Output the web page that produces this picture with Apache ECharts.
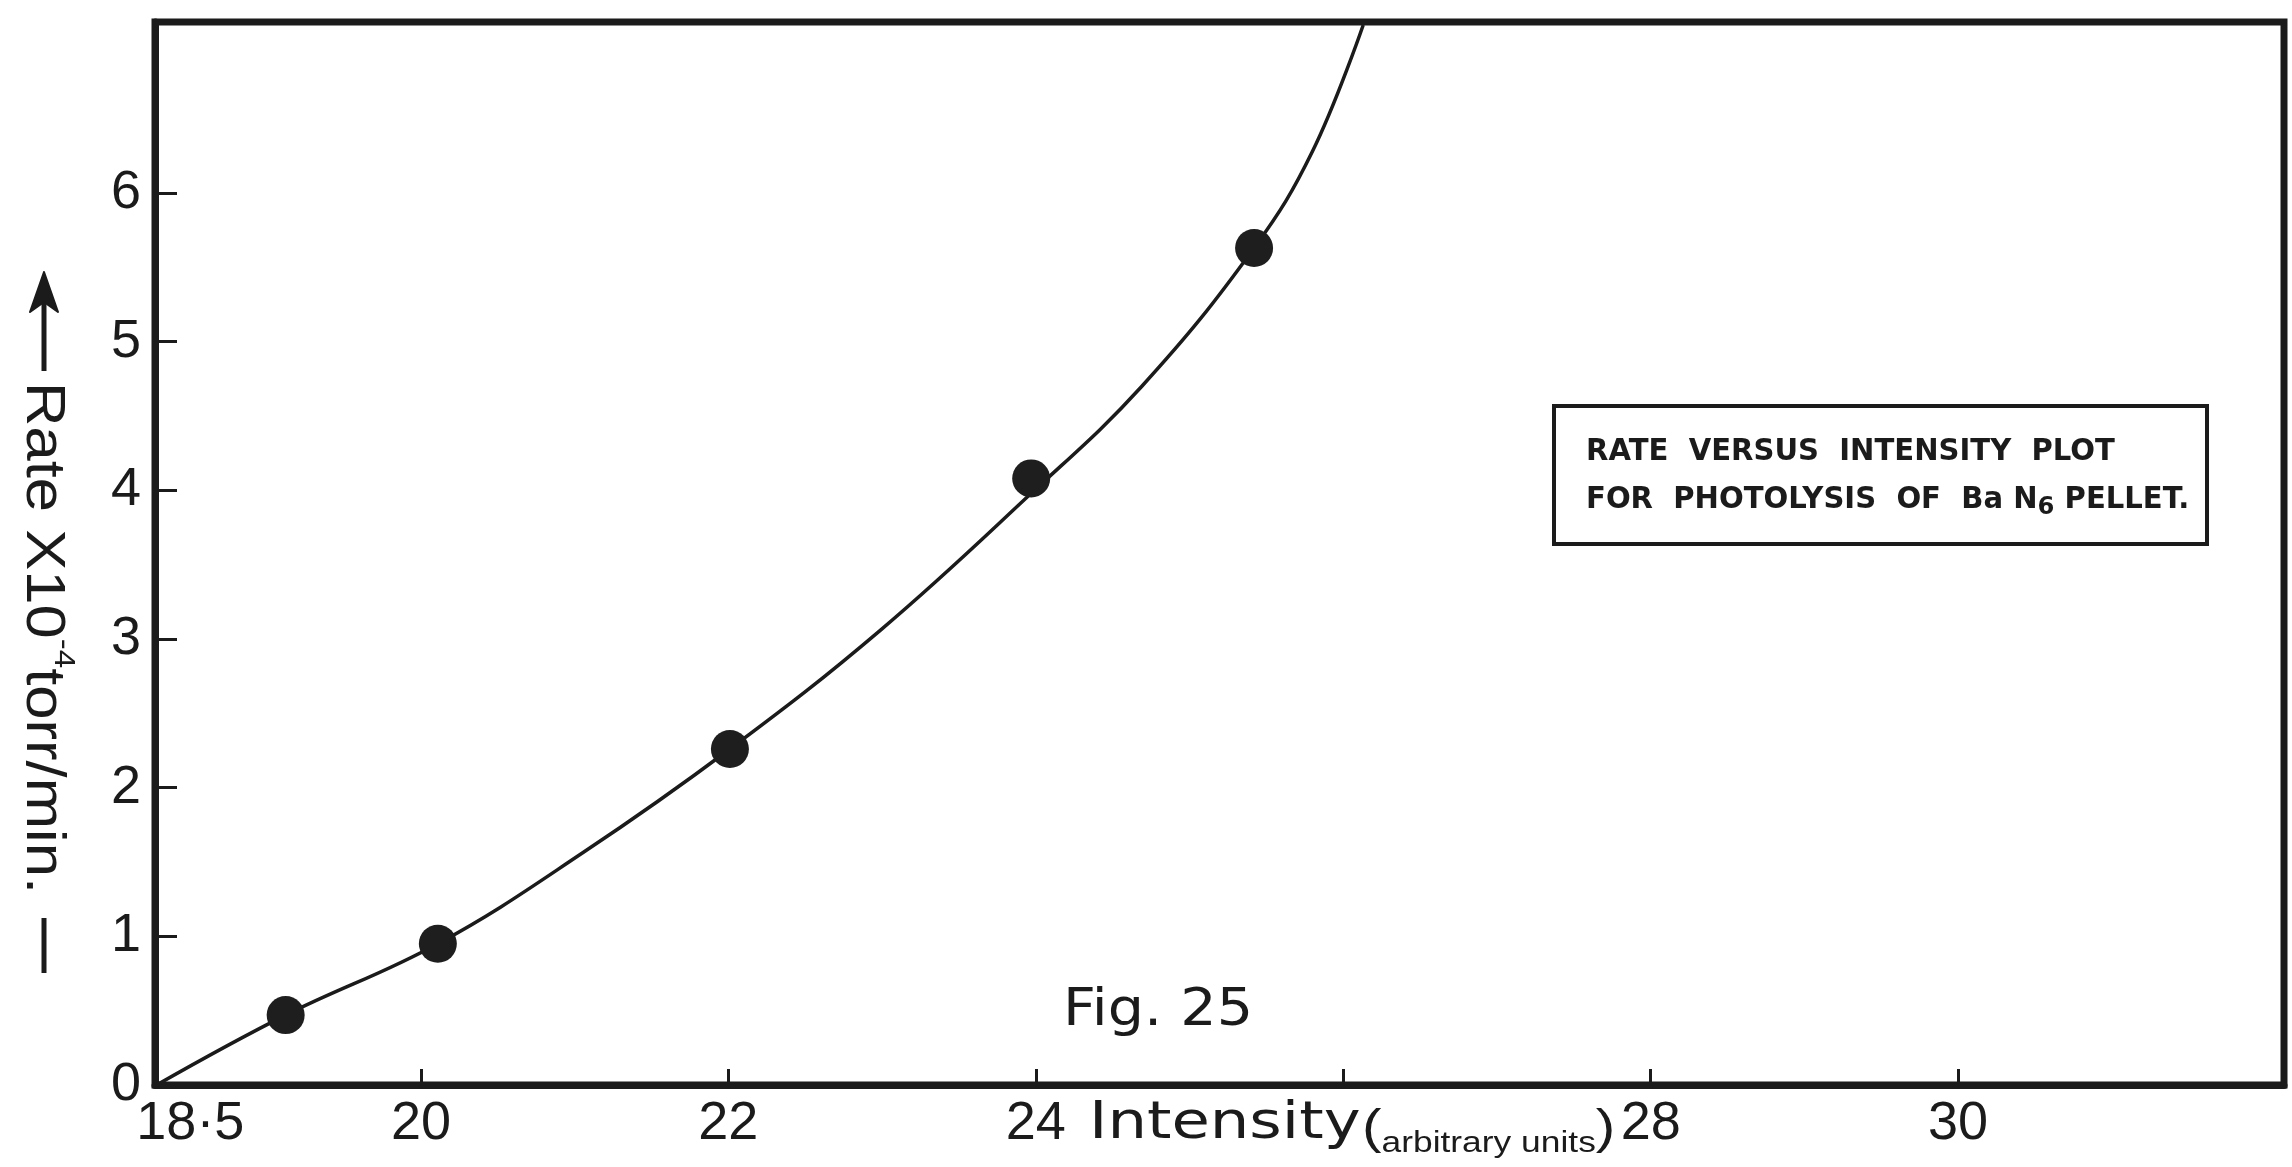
<!DOCTYPE html>
<html>
<head>
<meta charset="utf-8">
<script src="https://cdn.jsdelivr.net/npm/echarts@6/dist/echarts.min.js"></script>
<style>
  html, body { margin: 0; padding: 0; background: #ffffff; }
  #chart { width: 2292px; height: 1167px; }
</style>
</head>
<body>
<div id="chart"></div>
<script>
// Measured points: light intensity (arbitrary units) against rate (x10^-4 torr/min)
const intensity = [19.12, 20.11, 22.01, 23.97, 25.42];
const rate = [0.47, 0.95, 2.26, 4.08, 5.63];

// Hand-drawn smooth curve through the measurements, running off the top of the frame
const curveIntensity = [18.28, 19.12, 20.11, 21.05, 22.01, 22.99, 23.96, 24.69, 25.42, 25.80, 26.13];
const curveRate = [0.00, 0.47, 0.95, 1.56, 2.26, 3.06, 3.97, 4.70, 5.63, 6.28, 7.13];

// Axis ticks and labels
const xTicks = [20, 22, 24, 26, 28, 30];
const xTickLabels = [18.5, 20, 22, 24, 28, 30];
const yTicks = [1, 2, 3, 4, 5, 6];
const yTickLabels = [0, 1, 2, 3, 4, 5, 6];

const ink = '#1b1b1b';
const chart = echarts.init(document.getElementById('chart'), null, { renderer: 'canvas' });

const option = {
  backgroundColor: '#ffffff',
  animation: false,
  grid: {
    left: 155, top: 22, right: 8, bottom: 82,
    show: true, borderColor: ink, borderWidth: 7, backgroundColor: 'transparent'
  },
  xAxis: {
    type: 'value',
    min: 18.27,
    max: 32.12,
    axisLine: { show: true, onZero: false, lineStyle: { color: ink, width: 7 } },
    axisTick: { show: true, inside: true, length: 16, customValues: xTicks, lineStyle: { color: ink, width: 3 } },
    axisLabel: {
      customValues: xTickLabels,
      margin: 12,
      color: ink,
      fontFamily: 'Liberation Sans',
      fontSize: 54,
      formatter: v => (v === 18.5 ? '18·5' : String(v))
    },
    splitLine: { show: false }
  },
  yAxis: {
    type: 'value',
    min: 0,
    max: 7.15,
    axisLine: { show: true, onZero: false, lineStyle: { color: ink, width: 7 } },
    axisTick: { show: true, inside: true, length: 22, customValues: yTicks, lineStyle: { color: ink, width: 3 } },
    axisLabel: {
      customValues: yTickLabels,
      margin: 14,
      color: ink,
      fontFamily: 'Liberation Sans',
      fontSize: 54
    },
    splitLine: { show: false }
  },
  series: [
    {
      type: 'line',
      data: curveIntensity.map((x, i) => [x, curveRate[i]]),
      smooth: 0.4,
      showSymbol: false,
      clip: true,
      lineStyle: { color: ink, width: 3.5 },
      z: 2
    },
    {
      type: 'scatter',
      data: intensity.map((x, i) => [x, rate[i]]),
      symbol: 'circle',
      symbolSize: 38,
      itemStyle: { color: '#1e1e1e', opacity: 1 },
      z: 3
    }
  ],
  graphic: [
    // caption box
    {
      type: 'rect',
      shape: { x: 1554, y: 406, width: 653, height: 138 },
      style: { fill: '#ffffff', stroke: ink, lineWidth: 4 },
      z: 10
    },
    {
      type: 'text',
      x: 1586, y: 452, scaleX: 0.97,
      style: {
        text: 'RATE  VERSUS  INTENSITY  PLOT',
        fill: ink, font: 'bold 30px "DejaVu Sans"',
        align: 'left', verticalAlign: 'middle'
      },
      z: 11
    },
    {
      type: 'text',
      x: 1586, y: 500, scaleX: 0.97,
      style: {
        text: '{n|FOR  PHOTOLYSIS  OF  Ba N}{b|6}{n| PELLET.}',
        fill: ink,
        align: 'left', verticalAlign: 'middle',
        rich: {
          n: { fontFamily: 'DejaVu Sans', fontWeight: 'bold', fontSize: 30, lineHeight: 40, verticalAlign: 'middle', fill: ink },
          b: { fontFamily: 'DejaVu Sans', fontWeight: 'bold', fontSize: 25, lineHeight: 20, verticalAlign: 'bottom', fill: ink }
        }
      },
      z: 11
    },
    // figure number
    {
      type: 'text',
      x: 1063, y: 1011, scaleX: 1.1,
      style: {
        text: 'Fig. 25',
        fill: ink, font: '52px "DejaVu Sans"',
        align: 'left', verticalAlign: 'middle'
      }
    },
    // x axis title
    {
      type: 'text',
      x: 1089, y: 1124, scaleX: 1.2,
      style: {
        text: 'Intensity',
        fill: ink, font: '52px "DejaVu Sans"',
        align: 'left', verticalAlign: 'middle'
      }
    },
    {
      type: 'text',
      x: 1362, y: 1130, scaleX: 1.22,
      style: {
        text: '{p|(}{s|arbitrary units}{p|)}',
        fill: ink,
        align: 'left', verticalAlign: 'middle',
        rich: {
          p: { fontFamily: 'Liberation Sans', fontSize: 48, lineHeight: 56, verticalAlign: 'middle', fill: ink },
          s: { fontFamily: 'Liberation Sans', fontSize: 29, lineHeight: 28, verticalAlign: 'bottom', fill: ink }
        }
      }
    },
    // y axis title, reading downward
    {
      type: 'text',
      x: 42, y: 638, scaleX: 1.1,
      rotation: -Math.PI / 2,
      style: {
        text: '{t|Rate X10}{s|-4}{t|torr/min.}',
        fill: ink,
        align: 'center', verticalAlign: 'middle',
        rich: {
          t: { fontFamily: 'Liberation Sans', fontSize: 56, lineHeight: 72, verticalAlign: 'middle', fill: ink },
          s: { fontFamily: 'Liberation Sans', fontSize: 30, lineHeight: 30, verticalAlign: 'top', fill: ink }
        }
      }
    },
    {
      type: 'polyline',
      shape: { points: [[44, 371], [44, 278]] },
      style: { stroke: ink, lineWidth: 5, fill: null }
    },
    {
      type: 'polygon',
      shape: { points: [[44, 272], [30, 312], [44, 302], [58, 312]] },
      style: { fill: ink, stroke: ink, lineWidth: 2, lineJoin: 'round' }
    },
    {
      type: 'polyline',
      shape: { points: [[44, 918], [44, 973]] },
      style: { stroke: ink, lineWidth: 5, fill: null }
    }
  ]
};

chart.setOption(option);
</script>
</body>
</html>
